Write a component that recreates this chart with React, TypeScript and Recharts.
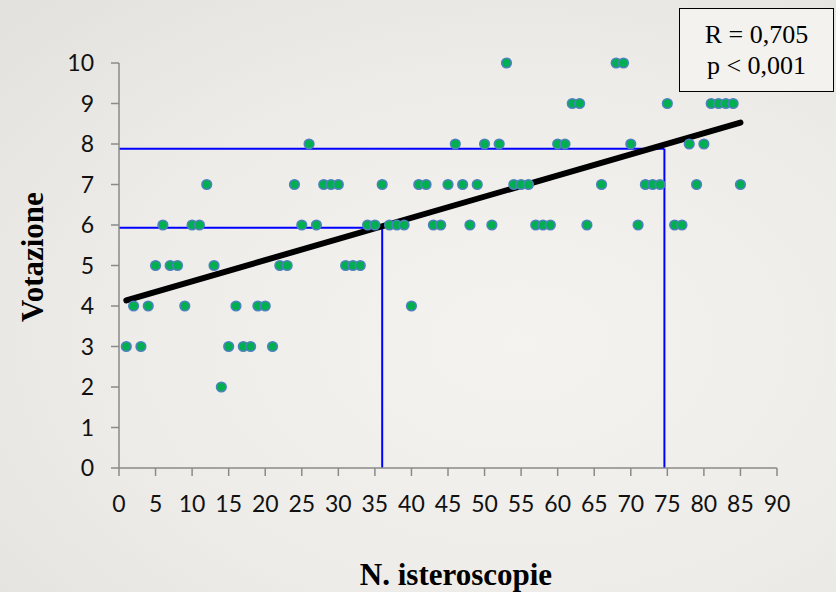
import React from 'react';
import { ScatterChart, Scatter, XAxis, YAxis, ReferenceLine, Label } from 'recharts';

// N. isteroscopie (x) and votazione (y), one dot per trainee
const isteroscopie = [
  1, 2, 3, 4, 5, 6, 7, 8, 9, 10,
  11, 12, 13, 14, 15, 16, 17, 18, 19, 20,
  21, 22, 23, 24, 25, 26, 27, 28, 29, 30,
  31, 32, 33, 34, 35, 36, 37, 38, 39, 40,
  41, 42, 43, 44, 45, 46, 47, 48, 49, 50,
  51, 52, 53, 54, 55, 56, 57, 58, 59, 60,
  61, 62, 63, 64, 66, 68, 69, 70, 71, 72,
  73, 74, 75, 76, 77, 78, 79, 80, 81, 82,
  83, 84, 85
];
const votazione = [
  3, 4, 3, 4, 5, 6, 5, 5, 4, 6,
  6, 7, 5, 2, 3, 4, 3, 3, 4, 4,
  3, 5, 5, 7, 6, 8, 6, 7, 7, 7,
  5, 5, 5, 6, 6, 7, 6, 6, 6, 4,
  7, 7, 6, 6, 7, 8, 7, 6, 7, 8,
  6, 8, 10, 7, 7, 7, 6, 6, 6, 8,
  8, 9, 9, 6, 7, 10, 10, 8, 6, 7,
  7, 7, 9, 6, 6, 8, 7, 8, 9, 9,
  9, 9, 7
];

const xTicks = [0, 5, 10, 15, 20, 25, 30, 35, 40, 45, 50, 55, 60, 65, 70, 75, 80, 85, 90];
const yTicks = [0, 1, 2, 3, 4, 5, 6, 7, 8, 9, 10];

// regression line ends and the two read-off guides
const trendX = [1, 85];
const trendY = [4.14, 8.53];
const guideX = [36, 74.6];
const guideY = [5.93, 7.88];

const points = isteroscopie.map((x, i) => ({ x, y: votazione[i] }));

const axisColor = '#8a8a8a';
const tickStyle = { fill: '#111', fontSize: 23, fontFamily: 'Lato' };

const Dot = (props: any) => (
  <circle cx={props.cx} cy={props.cy} r={4.8} fill="#00b050" stroke="#4f81bd" strokeWidth={1.6} />
);

export default function App() {
  return (
    <div
      style={{
        position: 'absolute',
        left: 0,
        top: 0,
        width: 836,
        height: 592,
        background: 'radial-gradient(ellipse at 62% 58%, #f4f3f0 0%, #edece8 55%, #e2e1dd 100%)'
      }}
    >
      <ScatterChart width={836} height={592} margin={{ top: 63, right: 59, bottom: 0, left: 0 }}>
        <XAxis
          type="number"
          dataKey="x"
          domain={[0, 90]}
          ticks={xTicks}
          interval={0}
          height={124}
          stroke={axisColor}
          strokeWidth={1.5}
          tickSize={8}
          tickMargin={20}
          tick={tickStyle}
        >
          <Label
            content={() => (
              <text x={456} y={585} textAnchor="middle" fontFamily="Liberation Serif" fontWeight="bold" fontSize={31} fill="#000">
                N. isteroscopie
              </text>
            )}
          />
        </XAxis>
        <YAxis
          type="number"
          dataKey="y"
          domain={[0, 10]}
          ticks={yTicks}
          interval={0}
          width={119}
          stroke={axisColor}
          strokeWidth={1.5}
          tickSize={8}
          tickMargin={17}
          tick={tickStyle}
        >
          <Label
            content={() => (
              <text
                x={43}
                y={257}
                transform="rotate(-90, 43, 257)"
                textAnchor="middle"
                fontFamily="Liberation Serif"
                fontWeight="bold"
                fontSize={31}
                fill="#000"
              >
                Votazione
              </text>
            )}
          />
        </YAxis>
        <Scatter data={points} shape={Dot} isAnimationActive={false} />
        {guideX.map((gx, i) => (
          <ReferenceLine
            key={`h-${i}`}
            segment={[{ x: 0, y: guideY[i] }, { x: gx, y: guideY[i] }]}
            stroke="#0000ff"
            strokeWidth={2}
          />
        ))}
        {guideX.map((gx, i) => (
          <ReferenceLine
            key={`v-${i}`}
            segment={[{ x: gx, y: 0 }, { x: gx, y: guideY[i] }]}
            stroke="#0000ff"
            strokeWidth={2}
          />
        ))}
        <ReferenceLine
          segment={[{ x: trendX[0], y: trendY[0] }, { x: trendX[1], y: trendY[1] }]}
          stroke="#000"
          strokeWidth={6}
          strokeLinecap="round"
        />
      </ScatterChart>
      <div
        style={{
          position: 'absolute',
          left: 679,
          top: 8,
          width: 155,
          height: 84,
          boxSizing: 'border-box',
          border: '1.5px solid #000',
          background: '#f3f2ef',
          fontFamily: 'Liberation Serif',
          fontSize: 26,
          lineHeight: '31px',
          paddingTop: 10,
          textAlign: 'center',
          color: '#000'
        }}
      >
        <div>R = 0,705</div>
        <div>p &lt; 0,001</div>
      </div>
    </div>
  );
}
